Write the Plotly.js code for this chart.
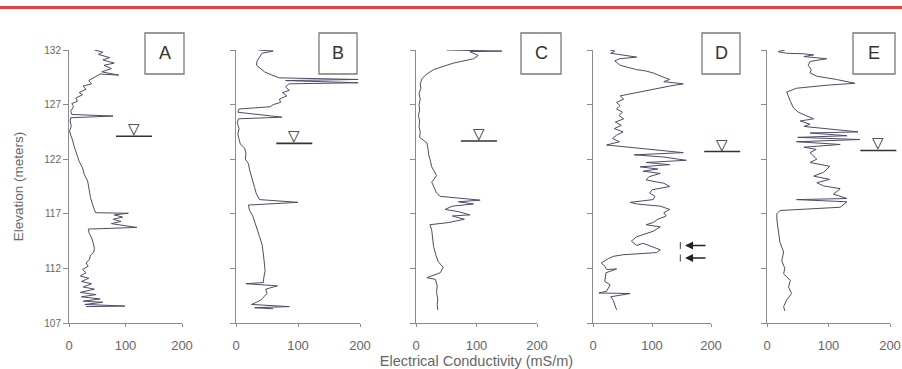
<!DOCTYPE html>
<html>
<head>
<meta charset="utf-8">
<script src="https://cdn.plot.ly/plotly-3.0.1.min.js"></script>
<style>html,body{margin:0;padding:0;background:#fff;}#chart{width:902px;height:369px;}</style>
</head>
<body>
<div id="chart"></div>
<script>
// ---- data (conductivity in mS/m, elevation in meters) ----
const panelLabels = ["A", "B", "C", "D", "E"];
const xTicks = [0, 100, 200];
const yTicks = [107, 112, 117, 122, 127, 132];

const condA = [45,60,52,72,60,80,62,75,58,88,55,45,35,40,25,30,18,24,12,15,5,8,3,5,78,3,2,4,1,3,6,9,14,18,24,27,33,35,38,42,47,105,80,95,78,92,75,120,34,36,40,43,45,44,38,36,30,34,24,30,20,35,22,40,25,45,20,48,22,55,25,60,28,99,30];
const elevA = [132.0,131.8,131.6,131.3,131.1,130.8,130.6,130.3,130.0,129.7,129.8,129.5,129.2,128.9,128.7,128.4,128.1,127.9,127.6,127.3,127.1,126.8,126.4,126.1,125.95,125.8,125.5,125.0,124.6,124.2,123.8,123.2,122.5,121.8,121.2,120.6,120.0,119.2,118.5,117.8,117.1,117.05,116.9,116.7,116.5,116.3,116.1,115.75,115.6,115.2,114.8,114.3,113.8,113.5,113.2,112.8,112.5,112.2,111.9,111.6,111.3,111.1,110.8,110.6,110.3,110.1,109.8,109.6,109.4,109.2,109.0,108.9,108.7,108.55,108.5];

const condB = [36,60,42,38,34,33,40,46,58,70,197,80,197,85,80,86,75,82,70,72,60,55,30,5,3,74,4,2,5,3,5,7,14,16,15,20,22,24,27,30,33,38,100,20,22,27,30,34,38,42,44,46,47,45,44,16,67,48,50,45,40,33,25,86,30,60];
const elevB = [132.0,131.9,131.7,131.4,131.0,130.6,130.3,130.0,129.7,129.45,129.3,129.2,129.0,128.9,128.6,128.3,128.1,127.8,127.5,127.2,127.0,126.8,126.7,126.6,126.3,125.85,125.7,125.3,124.8,124.3,123.8,123.4,123.0,122.5,122.0,121.6,121.0,120.5,120.0,119.4,118.8,118.3,118.05,117.8,117.3,116.8,116.2,115.6,114.9,114.2,113.4,112.6,111.8,111.2,110.7,110.6,110.4,110.1,109.7,109.4,109.1,108.9,108.7,108.5,108.4,108.3];

const condC = [51,128,142,89,103,95,80,62,45,29,18,10,7,8,5,7,5,6,4,6,5,7,6,18,20,21,24,26,34,26,30,34,40,106,70,95,60,48,70,89,60,80,54,23,26,27,29,33,37,45,40,18,32,35,34,36,35,36];
const elevC = [132.0,131.95,131.9,131.85,131.5,131.2,131.0,130.8,130.5,130.2,129.8,129.4,128.9,128.5,128.0,127.5,127.0,126.5,126.0,125.5,125.0,124.5,124.0,123.5,122.9,122.4,121.8,121.3,120.5,119.9,119.4,118.9,118.6,118.25,118.1,117.9,117.7,117.4,117.2,116.9,116.8,116.5,116.2,116.0,115.5,114.8,114.0,113.2,112.6,112.1,111.6,111.15,111.0,110.4,109.8,109.2,108.7,108.2];

const condD = [29,37,30,57,74,45,37,46,60,74,88,102,115,130,120,153,130,107,85,68,46,52,40,46,40,50,44,52,38,48,36,51,40,33,45,23,60,90,153,70,120,158,90,130,80,110,85,114,95,90,120,130,100,96,105,102,63,74,114,130,120,124,110,102,90,114,102,74,65,74,85,114,108,51,34,26,14,20,23,40,22,20,29,23,10,63,30,34,37,40];
const elevD = [132.0,131.9,131.7,131.5,131.35,131.2,131.0,130.6,130.4,130.2,130.1,129.9,129.6,129.3,129.1,128.9,128.7,128.45,128.2,128.0,127.8,127.5,127.2,126.9,126.6,126.3,126.0,125.7,125.4,125.1,124.8,124.5,124.2,123.9,123.6,123.3,123.1,122.9,122.6,122.4,122.2,121.9,121.7,121.5,121.3,121.1,120.9,120.7,120.4,120.1,119.8,119.5,119.2,118.9,118.6,118.3,118.05,117.9,117.7,117.4,117.1,116.8,116.5,116.2,116.0,115.8,115.4,114.9,114.5,114.1,114.3,113.7,113.45,113.25,113.1,112.9,112.5,112.2,111.9,111.95,111.6,110.8,110.5,109.9,109.75,109.7,109.4,109.1,108.6,108.2];

const condE = [29,18,32,60,76,60,97,70,67,72,70,81,113,143,102,48,32,35,38,43,51,65,76,54,70,60,148,70,130,50,151,48,119,60,80,70,81,70,102,92,76,102,81,92,119,108,130,48,130,119,21,16,16,18,21,27,24,29,27,38,35,40,32,27,29];
const elevE = [132.0,131.85,131.7,131.65,131.55,131.4,131.2,130.95,130.6,130.2,129.9,129.6,129.3,128.95,128.8,128.5,128.15,127.8,127.3,126.7,126.3,125.95,125.7,125.5,125.2,125.0,124.5,124.4,124.15,124.0,123.8,123.6,123.35,123.1,122.9,122.6,122.0,121.7,121.35,120.8,120.45,120.15,119.85,119.55,119.3,118.8,118.4,118.3,118.1,117.6,117.3,117.0,116.5,115.6,114.4,113.5,112.7,112.0,111.5,110.9,110.3,109.7,109.1,108.5,108.1];

// water table (triangle symbol) per panel
const wtCond = [115, 94, 104, 219, 181];
const wtElev = [124.1, 123.45, 123.67, 122.7, 122.8];

// arrows in panel D
const arrowCond = [156, 156];
const arrowElev = [114.1, 112.95];

const series = [[condA, elevA], [condB, elevB], [condC, elevC], [condD, elevD], [condE, elevE]];

// ---- layout positions (pixels) ----
const W = 902, H = 369;
const xPix = [[69, 182], [236, 360], [416, 537], [593, 711], [767, 890]];
const yPix = [50, 323];
const boxPix = [[145, 184], [319, 357], [521, 561], [702, 740], [853, 895]];
const boxY = [33, 74];
const xRange = [0, 200], yRange = [107, 132];

const lineColor = "#4c4c68";
const axisColor = "#8c8c8c";
const textColor = "#666666";

const traces = [];
const layout = {
  width: W, height: H,
  margin: {l: 0, r: 0, t: 0, b: 0},
  paper_bgcolor: "#ffffff",
  plot_bgcolor: "rgba(0,0,0,0)",
  showlegend: false,
  font: {family: "Liberation Sans, Arial, sans-serif", color: textColor},
  shapes: [],
  annotations: []
};

const yDom = [(H - yPix[1]) / H, (H - yPix[0]) / H];
// data value -> fraction of an axis domain (for marks that sit outside the plotted range)
const fx = v => (v - xRange[0]) / (xRange[1] - xRange[0]);
const fy = v => (v - yRange[0]) / (yRange[1] - yRange[0]);

for (let i = 0; i < 5; i++) {
  const n = i === 0 ? "" : String(i + 1);
  const xa = "x" + n, ya = "y" + n;
  traces.push({
    type: "scatter", mode: "lines",
    x: series[i][0], y: series[i][1],
    xaxis: xa, yaxis: ya,
    line: {color: lineColor, width: 1},
    hoverinfo: "skip"
  });
  // water table: bar + inverted triangle
  layout.shapes.push({
    type: "line", xref: xa + " domain", yref: ya + " domain",
    xsizemode: "pixel", xanchor: fx(wtCond[i]), x0: -18, x1: 18,
    y0: fy(wtElev[i]), y1: fy(wtElev[i]),
    line: {color: "#333333", width: 1.6}
  });
  layout.annotations.push({
    xref: xa + " domain", yref: ya + " domain", x: fx(wtCond[i]), y: fy(wtElev[i]),
    text: "<b>▽</b>", showarrow: false, xanchor: "center", yanchor: "bottom", yshift: -4,
    font: {size: 15, color: "#2a2a2a", family: "DejaVu Sans"}
  });

  layout["xaxis" + n] = {
    domain: [xPix[i][0] / W, xPix[i][1] / W],
    anchor: ya, range: xRange, tickvals: xTicks,
    ticks: "outside", ticklen: 3, tickcolor: axisColor,
    showline: true, linecolor: axisColor, linewidth: 1,
    showgrid: false, zeroline: false, fixedrange: true,
    ticklabelstandoff: 7,
    tickfont: {size: 13, color: textColor}
  };
  layout["yaxis" + n] = {
    domain: yDom, anchor: xa, range: yRange, tickvals: yTicks,
    ticks: "outside", ticklen: 5, tickcolor: axisColor,
    showline: true, linecolor: axisColor, linewidth: 1,
    showgrid: false, zeroline: false, fixedrange: true,
    showticklabels: i === 0,
    tickfont: {size: 10, color: textColor}
  };
  // letter box
  layout.shapes.push({
    type: "rect", xref: "paper", yref: "paper",
    x0: boxPix[i][0] / W, x1: boxPix[i][1] / W,
    y0: (H - boxY[1]) / H, y1: (H - boxY[0]) / H,
    line: {color: "#7a7a7a", width: 1.3}, fillcolor: "rgba(0,0,0,0)"
  });
  layout.annotations.push({
    xref: "paper", yref: "paper",
    x: (boxPix[i][0] + boxPix[i][1]) / 2 / W, y: (H - (boxY[0] + boxY[1]) / 2) / H,
    xanchor: "center", yanchor: "middle",
    text: panelLabels[i], showarrow: false,
    font: {size: 18, color: "#333333", family: "Liberation Sans, Arial, sans-serif"}
  });
}

layout.yaxis.title = {text: "Elevation (meters)", font: {size: 13.5, color: textColor}, standoff: 17};
layout.xaxis3.title = {text: "Electrical Conductivity (mS/m)", font: {size: 14.5, color: textColor}, standoff: 0};

// arrows in D
for (let k = 0; k < arrowCond.length; k++) {
  layout.annotations.push({
    xref: "x4", yref: "y4", x: arrowCond[k], y: arrowElev[k],
    text: "", showarrow: true, ax: 22, ay: 0,
    arrowhead: 2, arrowsize: 1, arrowwidth: 1.6, arrowcolor: "#222222"
  });
}
traces.push({
  type: "scatter", mode: "markers",
  x: arrowCond.map(v => v - 8), y: arrowElev,
  xaxis: "x4", yaxis: "y4", cliponaxis: false,
  marker: {symbol: "line-ns-open", size: 5, color: "#444444", line: {color: "#444444", width: 1}},
  hoverinfo: "skip"
});

// red rule at top
layout.shapes.push({
  type: "line", xref: "paper", yref: "paper",
  x0: 0, x1: 1, y0: (H - 7.5) / H, y1: (H - 7.5) / H,
  line: {color: "#e8413b", width: 3}
});

Plotly.newPlot("chart", traces, layout, {displayModeBar: false, staticPlot: true});
</script>
</body>
</html>
